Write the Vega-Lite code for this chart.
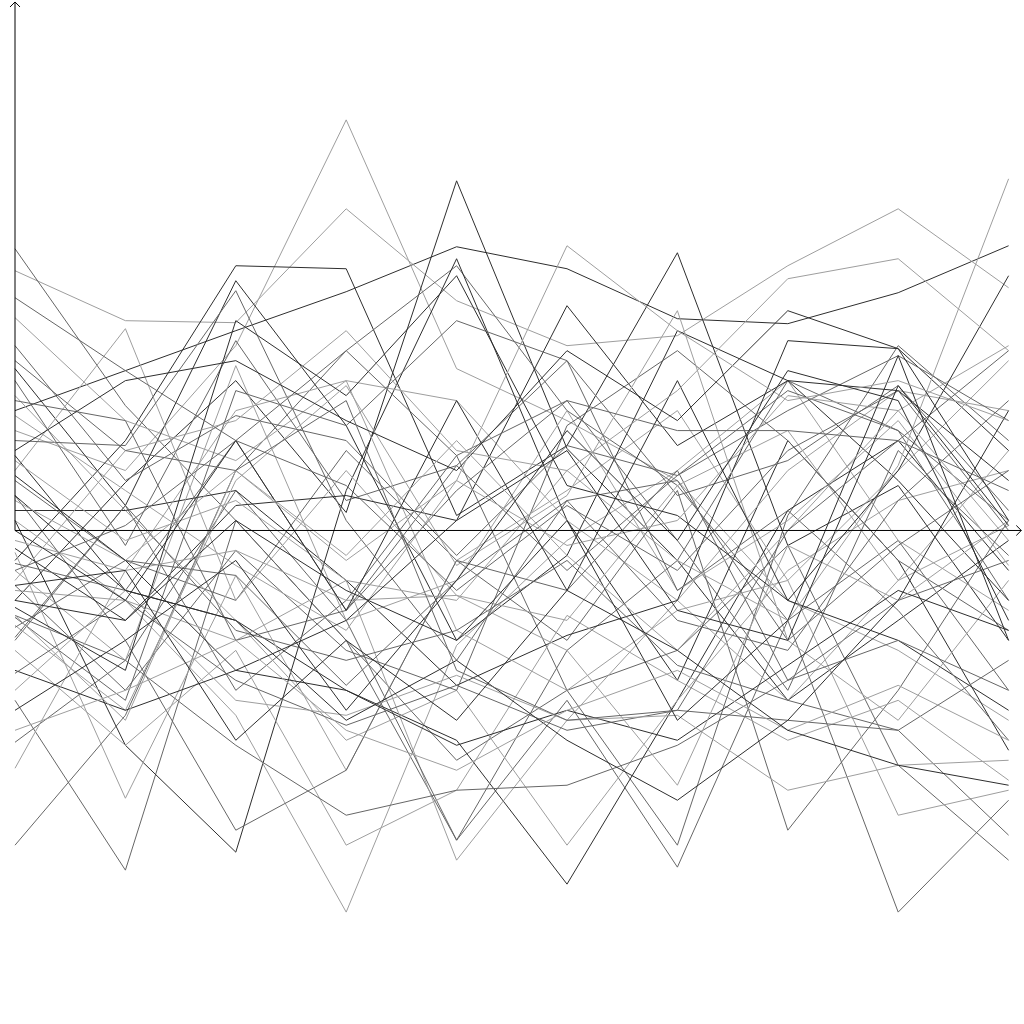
{"$schema":"https://vega.github.io/schema/vega-lite/v6.json","width":1024,"height":1024,"autosize":{"type":"fit","contains":"padding"},"padding":0,"background":"white","config":{"view":{"stroke":null}},
"datasets":{
"lines":[
{"id":1,"x":0,"y":1.2},{"id":1,"x":1,"y":1.6},{"id":1,"x":2,"y":2.0},{"id":1,"x":3,"y":2.39},{"id":1,"x":4,"y":2.84},{"id":1,"x":5,"y":2.62},{"id":1,"x":6,"y":2.12},{"id":1,"x":7,"y":2.07},{"id":1,"x":8,"y":2.38},{"id":1,"x":9,"y":2.85},
{"id":2,"x":0,"y":1.0},{"id":2,"x":1,"y":0.6},{"id":2,"x":2,"y":1.85},{"id":2,"x":3,"y":4.11},{"id":2,"x":4,"y":1.62},{"id":2,"x":5,"y":1.1},{"id":2,"x":6,"y":0.5},{"id":2,"x":7,"y":-0.7},{"id":2,"x":8,"y":-1.2},{"id":2,"x":9,"y":-1.9},
{"id":3,"x":0,"y":2.6},{"id":3,"x":1,"y":2.1},{"id":3,"x":2,"y":2.08},{"id":3,"x":3,"y":3.22},{"id":3,"x":4,"y":2.3},{"id":3,"x":5,"y":1.85},{"id":3,"x":6,"y":1.95},{"id":3,"x":7,"y":2.65},{"id":3,"x":8,"y":3.22},{"id":3,"x":9,"y":2.43},
{"id":4,"x":0,"y":-0.7},{"id":4,"x":1,"y":0.48},{"id":4,"x":2,"y":1.5},{"id":4,"x":3,"y":0.18},{"id":4,"x":4,"y":3.5},{"id":4,"x":5,"y":0.82},{"id":4,"x":6,"y":-0.3},{"id":4,"x":7,"y":-1.7},{"id":4,"x":8,"y":-0.9},{"id":4,"x":9,"y":-0.1},
{"id":5,"x":0,"y":-0.3},{"id":5,"x":1,"y":0.9},{"id":5,"x":2,"y":2.65},{"id":5,"x":3,"y":2.62},{"id":5,"x":4,"y":0.15},{"id":5,"x":5,"y":0.85},{"id":5,"x":6,"y":2.78},{"id":5,"x":7,"y":-0.15},{"id":5,"x":8,"y":0.45},{"id":5,"x":9,"y":-1.1},
{"id":6,"x":0,"y":2.82},{"id":6,"x":1,"y":1.25},{"id":6,"x":2,"y":0.1},{"id":6,"x":3,"y":-1.1},{"id":6,"x":4,"y":-2.3},{"id":6,"x":5,"y":-1.6},{"id":6,"x":6,"y":-1.2},{"id":6,"x":7,"y":-0.15},{"id":6,"x":8,"y":-2.35},{"id":6,"x":9,"y":-3.3},
{"id":7,"x":0,"y":-3.15},{"id":7,"x":1,"y":-1.85},{"id":7,"x":2,"y":0.6},{"id":7,"x":3,"y":1.8},{"id":7,"x":4,"y":2.65},{"id":7,"x":5,"y":1.2},{"id":7,"x":6,"y":0.45},{"id":7,"x":7,"y":-0.9},{"id":7,"x":8,"y":-3.82},{"id":7,"x":9,"y":-2.7},
{"id":8,"x":0,"y":-1.7},{"id":8,"x":1,"y":-3.4},{"id":8,"x":2,"y":0.1},{"id":8,"x":3,"y":-1.1},{"id":8,"x":4,"y":-3.1},{"id":8,"x":5,"y":-1.7},{"id":8,"x":6,"y":-3.37},{"id":8,"x":7,"y":-0.9},{"id":8,"x":8,"y":-0.1},{"id":8,"x":9,"y":-1.6},
{"id":9,"x":0,"y":0.1},{"id":9,"x":1,"y":-2.15},{"id":9,"x":2,"y":-3.22},{"id":9,"x":3,"y":0.4},{"id":9,"x":4,"y":2.72},{"id":9,"x":5,"y":0.1},{"id":9,"x":6,"y":-1.5},{"id":9,"x":7,"y":0.9},{"id":9,"x":8,"y":-0.3},{"id":9,"x":9,"y":-2.2},
{"id":10,"x":0,"y":-1.1},{"id":10,"x":1,"y":0.25},{"id":10,"x":2,"y":-1.6},{"id":10,"x":3,"y":-0.7},{"id":10,"x":4,"y":0.75},{"id":10,"x":5,"y":-1.6},{"id":10,"x":6,"y":-3.15},{"id":10,"x":7,"y":0.15},{"id":10,"x":8,"y":1.85},{"id":10,"x":9,"y":0.9},
{"id":11,"x":0,"y":-0.6},{"id":11,"x":1,"y":-0.7},{"id":11,"x":2,"y":-1.85},{"id":11,"x":3,"y":-3.82},{"id":11,"x":4,"y":-1.15},{"id":11,"x":5,"y":-0.1},{"id":11,"x":6,"y":0.6},{"id":11,"x":7,"y":1.5},{"id":11,"x":8,"y":-0.1},{"id":11,"x":9,"y":-0.8},
{"id":12,"x":0,"y":0.75},{"id":12,"x":1,"y":-0.6},{"id":12,"x":2,"y":-0.9},{"id":12,"x":3,"y":-1.6},{"id":12,"x":4,"y":-2.1},{"id":12,"x":5,"y":-3.54},{"id":12,"x":6,"y":-1.7},{"id":12,"x":7,"y":0.2},{"id":12,"x":8,"y":0.9},{"id":12,"x":9,"y":-0.4},
{"id":13,"x":0,"y":0.5},{"id":13,"x":1,"y":-0.3},{"id":13,"x":2,"y":-0.7},{"id":13,"x":3,"y":0.8},{"id":13,"x":4,"y":-0.3},{"id":13,"x":5,"y":-1.1},{"id":13,"x":6,"y":0.4},{"id":13,"x":7,"y":-3.0},{"id":13,"x":8,"y":-1.6},{"id":13,"x":9,"y":0.1},
{"id":14,"x":0,"y":0.1},{"id":14,"x":1,"y":-0.7},{"id":14,"x":2,"y":-1.1},{"id":14,"x":3,"y":-0.5},{"id":14,"x":4,"y":-3.3},{"id":14,"x":5,"y":-1.9},{"id":14,"x":6,"y":-0.7},{"id":14,"x":7,"y":0.6},{"id":14,"x":8,"y":1.4},{"id":14,"x":9,"y":1.2},
{"id":15,"x":0,"y":-0.85},{"id":15,"x":1,"y":-1.3},{"id":15,"x":2,"y":0.4},{"id":15,"x":3,"y":-0.9},{"id":15,"x":4,"y":-3.1},{"id":15,"x":5,"y":-1.2},{"id":15,"x":6,"y":-0.3},{"id":15,"x":7,"y":1.5},{"id":15,"x":8,"y":1.0},{"id":15,"x":9,"y":-0.7},
{"id":16,"x":0,"y":1.35},{"id":16,"x":1,"y":0.2},{"id":16,"x":2,"y":-0.9},{"id":16,"x":3,"y":-2.1},{"id":16,"x":4,"y":-1.6},{"id":16,"x":5,"y":-3.15},{"id":16,"x":6,"y":-1.7},{"id":16,"x":7,"y":-0.4},{"id":16,"x":8,"y":0.3},{"id":16,"x":9,"y":0.6},
{"id":17,"x":0,"y":-0.22},{"id":17,"x":1,"y":-2.68},{"id":17,"x":2,"y":-0.45},{"id":17,"x":3,"y":-2.4},{"id":17,"x":4,"y":-0.3},{"id":17,"x":5,"y":0.4},{"id":17,"x":6,"y":1.2},{"id":17,"x":7,"y":-0.5},{"id":17,"x":8,"y":-2.85},{"id":17,"x":9,"y":-2.6},
{"id":18,"x":0,"y":0.35},{"id":18,"x":1,"y":-1.1},{"id":18,"x":2,"y":-3.0},{"id":18,"x":3,"y":-2.4},{"id":18,"x":4,"y":-0.3},{"id":18,"x":5,"y":-0.6},{"id":18,"x":6,"y":0.6},{"id":18,"x":7,"y":-1.5},{"id":18,"x":8,"y":-0.7},{"id":18,"x":9,"y":-0.3},
{"id":19,"x":0,"y":2.13},{"id":19,"x":1,"y":1.1},{"id":19,"x":2,"y":0.7},{"id":19,"x":3,"y":1.5},{"id":19,"x":4,"y":1.3},{"id":19,"x":5,"y":0.1},{"id":19,"x":6,"y":-0.7},{"id":19,"x":7,"y":-1.7},{"id":19,"x":8,"y":-0.5},{"id":19,"x":9,"y":0.8},
{"id":20,"x":0,"y":1.85},{"id":20,"x":1,"y":0.5},{"id":20,"x":2,"y":1.15},{"id":20,"x":3,"y":0.9},{"id":20,"x":4,"y":-0.25},{"id":20,"x":5,"y":0.85},{"id":20,"x":6,"y":0.55},{"id":20,"x":7,"y":1.4},{"id":20,"x":8,"y":1.0},{"id":20,"x":9,"y":0.1},
{"id":21,"x":0,"y":1.62},{"id":21,"x":1,"y":0.25},{"id":21,"x":2,"y":2.5},{"id":21,"x":3,"y":1.05},{"id":21,"x":4,"y":-1.1},{"id":21,"x":5,"y":-0.25},{"id":21,"x":6,"y":2.0},{"id":21,"x":7,"y":1.5},{"id":21,"x":8,"y":0.5},{"id":21,"x":9,"y":-0.7},
{"id":22,"x":0,"y":1.5},{"id":22,"x":1,"y":-0.15},{"id":22,"x":2,"y":1.9},{"id":22,"x":3,"y":0.3},{"id":22,"x":4,"y":0.65},{"id":22,"x":5,"y":1.7},{"id":22,"x":6,"y":0.35},{"id":22,"x":7,"y":0.7},{"id":22,"x":8,"y":1.45},{"id":22,"x":9,"y":0.2},
{"id":23,"x":0,"y":0.6},{"id":23,"x":1,"y":2.02},{"id":23,"x":2,"y":-0.7},{"id":23,"x":3,"y":0.6},{"id":23,"x":4,"y":-0.65},{"id":23,"x":5,"y":-0.9},{"id":23,"x":6,"y":0.45},{"id":23,"x":7,"y":1.0},{"id":23,"x":8,"y":-0.5},{"id":23,"x":9,"y":0.05},
{"id":24,"x":0,"y":0.9},{"id":24,"x":1,"y":0.85},{"id":24,"x":2,"y":2.4},{"id":24,"x":3,"y":0.1},{"id":24,"x":4,"y":-1.3},{"id":24,"x":5,"y":0.3},{"id":24,"x":6,"y":0.5},{"id":24,"x":7,"y":-1.1},{"id":24,"x":8,"y":-0.15},{"id":24,"x":9,"y":0.6},
{"id":25,"x":0,"y":0.2},{"id":25,"x":1,"y":0.2},{"id":25,"x":2,"y":0.4},{"id":25,"x":3,"y":-0.5},{"id":25,"x":4,"y":-1.55},{"id":25,"x":5,"y":-1.05},{"id":25,"x":6,"y":-0.7},{"id":25,"x":7,"y":1.9},{"id":25,"x":8,"y":1.82},{"id":25,"x":9,"y":0.8},
{"id":26,"x":0,"y":-0.1},{"id":26,"x":1,"y":-0.4},{"id":26,"x":2,"y":1.2},{"id":26,"x":3,"y":1.5},{"id":26,"x":4,"y":-1.0},{"id":26,"x":5,"y":-1.6},{"id":26,"x":6,"y":-0.8},{"id":26,"x":7,"y":-0.5},{"id":26,"x":8,"y":0.6},{"id":26,"x":9,"y":1.7},
{"id":27,"x":0,"y":-0.18},{"id":27,"x":1,"y":-0.9},{"id":27,"x":2,"y":0.25},{"id":27,"x":3,"y":0.35},{"id":27,"x":4,"y":0.1},{"id":27,"x":5,"y":2.25},{"id":27,"x":6,"y":0.85},{"id":27,"x":7,"y":1.5},{"id":27,"x":8,"y":1.4},{"id":27,"x":9,"y":0.5},
{"id":28,"x":0,"y":-0.33},{"id":28,"x":1,"y":-0.6},{"id":28,"x":2,"y":0.9},{"id":28,"x":3,"y":-0.8},{"id":28,"x":4,"y":0.4},{"id":28,"x":5,"y":1.3},{"id":28,"x":6,"y":-0.1},{"id":28,"x":7,"y":-1.6},{"id":28,"x":8,"y":0.8},{"id":28,"x":9,"y":-0.25},
{"id":29,"x":0,"y":-0.4},{"id":29,"x":1,"y":-1.3},{"id":29,"x":2,"y":1.65},{"id":29,"x":3,"y":-0.9},{"id":29,"x":4,"y":-0.5},{"id":29,"x":5,"y":1.2},{"id":29,"x":6,"y":-0.6},{"id":29,"x":7,"y":0.1},{"id":29,"x":8,"y":1.1},{"id":29,"x":9,"y":-0.35},
{"id":30,"x":0,"y":-0.55},{"id":30,"x":1,"y":-1.6},{"id":30,"x":2,"y":-0.2},{"id":30,"x":3,"y":-1.2},{"id":30,"x":4,"y":-1.6},{"id":30,"x":5,"y":1.05},{"id":30,"x":6,"y":1.8},{"id":30,"x":7,"y":0.9},{"id":30,"x":8,"y":-0.3},{"id":30,"x":9,"y":-1.0},
{"id":31,"x":0,"y":-0.77},{"id":31,"x":1,"y":-1.4},{"id":31,"x":2,"y":2.1},{"id":31,"x":3,"y":1.35},{"id":31,"x":4,"y":2.55},{"id":31,"x":5,"y":0.45},{"id":31,"x":6,"y":0.15},{"id":31,"x":7,"y":-0.7},{"id":31,"x":8,"y":-1.1},{"id":31,"x":9,"y":-1.8},
{"id":32,"x":0,"y":-0.87},{"id":32,"x":1,"y":-1.7},{"id":32,"x":2,"y":1.4},{"id":32,"x":3,"y":1.05},{"id":32,"x":4,"y":2.1},{"id":32,"x":5,"y":1.7},{"id":32,"x":6,"y":-0.6},{"id":32,"x":7,"y":0.2},{"id":32,"x":8,"y":-0.8},{"id":32,"x":9,"y":-2.1},
{"id":33,"x":0,"y":-0.95},{"id":33,"x":1,"y":-1.8},{"id":33,"x":2,"y":0.5},{"id":33,"x":3,"y":1.45},{"id":33,"x":4,"y":-0.35},{"id":33,"x":5,"y":0.35},{"id":33,"x":6,"y":2.2},{"id":33,"x":7,"y":-1.1},{"id":33,"x":8,"y":-1.9},{"id":33,"x":9,"y":-0.5},
{"id":34,"x":0,"y":-0.97},{"id":34,"x":1,"y":-0.3},{"id":34,"x":2,"y":-0.45},{"id":34,"x":3,"y":-1.55},{"id":34,"x":4,"y":-0.5},{"id":34,"x":5,"y":0.3},{"id":34,"x":6,"y":-0.9},{"id":34,"x":7,"y":-1.2},{"id":34,"x":8,"y":0.3},{"id":34,"x":9,"y":1.3},
{"id":35,"x":0,"y":-1.07},{"id":35,"x":1,"y":0.25},{"id":35,"x":2,"y":-1.0},{"id":35,"x":3,"y":-1.3},{"id":35,"x":4,"y":-1.0},{"id":35,"x":5,"y":-0.3},{"id":35,"x":6,"y":-1.35},{"id":35,"x":7,"y":-1.7},{"id":35,"x":8,"y":-2.0},{"id":35,"x":9,"y":-1.3},
{"id":36,"x":0,"y":-1.2},{"id":36,"x":1,"y":-2.15},{"id":36,"x":2,"y":-1.2},{"id":36,"x":3,"y":-3.15},{"id":36,"x":4,"y":-2.6},{"id":36,"x":5,"y":-0.85},{"id":36,"x":6,"y":-1.5},{"id":36,"x":7,"y":-2.1},{"id":36,"x":8,"y":-1.7},{"id":36,"x":9,"y":-2.5},
{"id":37,"x":0,"y":-1.4},{"id":37,"x":1,"y":-1.8},{"id":37,"x":2,"y":-1.4},{"id":37,"x":3,"y":-1.6},{"id":37,"x":4,"y":-2.15},{"id":37,"x":5,"y":-1.8},{"id":37,"x":6,"y":-2.1},{"id":37,"x":7,"y":-1.35},{"id":37,"x":8,"y":-0.6},{"id":37,"x":9,"y":-1.0},
{"id":38,"x":0,"y":-1.43},{"id":38,"x":1,"y":-0.7},{"id":38,"x":2,"y":-1.5},{"id":38,"x":3,"y":-1.95},{"id":38,"x":4,"y":-1.55},{"id":38,"x":5,"y":-2.0},{"id":38,"x":6,"y":-1.8},{"id":38,"x":7,"y":-1.9},{"id":38,"x":8,"y":-2.0},{"id":38,"x":9,"y":-3.05},
{"id":39,"x":0,"y":-1.6},{"id":39,"x":1,"y":-0.6},{"id":39,"x":2,"y":-1.7},{"id":39,"x":3,"y":-1.85},{"id":39,"x":4,"y":-1.45},{"id":39,"x":5,"y":-1.9},{"id":39,"x":6,"y":-1.85},{"id":39,"x":7,"y":-2.6},{"id":39,"x":8,"y":-2.35},{"id":39,"x":9,"y":-2.3},
{"id":40,"x":0,"y":-2.12},{"id":40,"x":1,"y":-1.3},{"id":40,"x":2,"y":-2.15},{"id":40,"x":3,"y":-2.85},{"id":40,"x":4,"y":-2.6},{"id":40,"x":5,"y":-2.55},{"id":40,"x":6,"y":-2.15},{"id":40,"x":7,"y":-1.5},{"id":40,"x":8,"y":-1.1},{"id":40,"x":9,"y":-1.6},
{"id":41,"x":0,"y":-2.38},{"id":41,"x":1,"y":-0.4},{"id":41,"x":2,"y":-0.2},{"id":41,"x":3,"y":-0.7},{"id":41,"x":4,"y":-0.65},{"id":41,"x":5,"y":-1.2},{"id":41,"x":6,"y":-2.55},{"id":41,"x":7,"y":-0.15},{"id":41,"x":8,"y":-0.7},{"id":41,"x":9,"y":0.1},
{"id":42,"x":0,"y":1.3},{"id":42,"x":1,"y":1.1},{"id":42,"x":2,"y":-1.1},{"id":42,"x":3,"y":-0.8},{"id":42,"x":4,"y":0.65},{"id":42,"x":5,"y":-0.4},{"id":42,"x":6,"y":0.55},{"id":42,"x":7,"y":1.2},{"id":42,"x":8,"y":1.75},{"id":42,"x":9,"y":1.1},
{"id":43,"x":0,"y":1.15},{"id":43,"x":1,"y":0.4},{"id":43,"x":2,"y":-0.35},{"id":43,"x":3,"y":-1.0},{"id":43,"x":4,"y":0.5},{"id":43,"x":5,"y":-0.15},{"id":43,"x":6,"y":0.1},{"id":43,"x":7,"y":1.35},{"id":43,"x":8,"y":1.2},{"id":43,"x":9,"y":1.85},
{"id":44,"x":0,"y":2.33},{"id":44,"x":1,"y":1.6},{"id":44,"x":2,"y":0.9},{"id":44,"x":3,"y":1.8},{"id":44,"x":4,"y":0.75},{"id":44,"x":5,"y":1.3},{"id":44,"x":6,"y":1.0},{"id":44,"x":7,"y":1.0},{"id":44,"x":8,"y":0.9},{"id":44,"x":9,"y":1.8},
{"id":45,"x":0,"y":0.35},{"id":45,"x":1,"y":-0.6},{"id":45,"x":2,"y":-0.9},{"id":45,"x":3,"y":-1.9},{"id":45,"x":4,"y":-1.3},{"id":45,"x":5,"y":-2.1},{"id":45,"x":6,"y":-2.7},{"id":45,"x":7,"y":-1.9},{"id":45,"x":8,"y":-0.7},{"id":45,"x":9,"y":1.2},
{"id":46,"x":0,"y":0.7},{"id":46,"x":1,"y":-0.1},{"id":46,"x":2,"y":0.3},{"id":46,"x":3,"y":-0.5},{"id":46,"x":4,"y":-0.7},{"id":46,"x":5,"y":0.6},{"id":46,"x":6,"y":-0.3},{"id":46,"x":7,"y":-0.9},{"id":46,"x":8,"y":0.65},{"id":46,"x":9,"y":3.52},
{"id":47,"x":0,"y":0.0},{"id":47,"x":1,"y":-0.7},{"id":47,"x":2,"y":0.9},{"id":47,"x":3,"y":-0.8},{"id":47,"x":4,"y":1.3},{"id":47,"x":5,"y":-0.6},{"id":47,"x":6,"y":1.5},{"id":47,"x":7,"y":-0.7},{"id":47,"x":8,"y":0.6},{"id":47,"x":9,"y":2.55},
{"id":48,"x":0,"y":-0.5},{"id":48,"x":1,"y":0.8},{"id":48,"x":2,"y":1.1},{"id":48,"x":3,"y":2.0},{"id":48,"x":4,"y":0.8},{"id":48,"x":5,"y":0.6},{"id":48,"x":6,"y":1.4},{"id":48,"x":7,"y":2.52},{"id":48,"x":8,"y":2.72},{"id":48,"x":9,"y":1.8},
{"id":49,"x":0,"y":0.8},{"id":49,"x":1,"y":1.5},{"id":49,"x":2,"y":1.7},{"id":49,"x":3,"y":1.1},{"id":49,"x":4,"y":0.6},{"id":49,"x":5,"y":1.8},{"id":49,"x":6,"y":1.1},{"id":49,"x":7,"y":2.2},{"id":49,"x":8,"y":1.82},{"id":49,"x":9,"y":0.1},
{"id":50,"x":0,"y":-0.7},{"id":50,"x":1,"y":-0.9},{"id":50,"x":2,"y":0.1},{"id":50,"x":3,"y":-0.6},{"id":50,"x":4,"y":-1.1},{"id":50,"x":5,"y":0.1},{"id":50,"x":6,"y":-1.9},{"id":50,"x":7,"y":-0.9},{"id":50,"x":8,"y":1.75},{"id":50,"x":9,"y":-1.1},
{"id":51,"x":0,"y":0.3},{"id":51,"x":1,"y":-0.3},{"id":51,"x":2,"y":0.6},{"id":51,"x":3,"y":-0.3},{"id":51,"x":4,"y":0.5},{"id":51,"x":5,"y":2.85},{"id":51,"x":6,"y":2.0},{"id":51,"x":7,"y":1.3},{"id":51,"x":8,"y":1.5},{"id":51,"x":9,"y":1.1},
{"id":52,"x":0,"y":-0.4},{"id":52,"x":1,"y":0.05},{"id":52,"x":2,"y":0.9},{"id":52,"x":3,"y":0.45},{"id":52,"x":4,"y":-0.6},{"id":52,"x":5,"y":0.25},{"id":52,"x":6,"y":-0.4},{"id":52,"x":7,"y":0.8},{"id":52,"x":8,"y":1.4},{"id":52,"x":9,"y":0.0},
{"id":53,"x":0,"y":0.55},{"id":53,"x":1,"y":-0.3},{"id":53,"x":2,"y":-1.4},{"id":53,"x":3,"y":-0.9},{"id":53,"x":4,"y":0.1},{"id":53,"x":5,"y":0.8},{"id":53,"x":6,"y":-0.8},{"id":53,"x":7,"y":-1.1},{"id":53,"x":8,"y":1.45},{"id":53,"x":9,"y":0.05},
{"id":54,"x":0,"y":-0.85},{"id":54,"x":1,"y":-1.9},{"id":54,"x":2,"y":0.6},{"id":54,"x":3,"y":-0.25},{"id":54,"x":4,"y":0.9},{"id":54,"x":5,"y":-0.25},{"id":54,"x":6,"y":-1.2},{"id":54,"x":7,"y":0.0},{"id":54,"x":8,"y":1.2},{"id":54,"x":9,"y":-0.1},
{"id":55,"x":0,"y":-1.8},{"id":55,"x":1,"y":-1.1},{"id":55,"x":2,"y":-0.3},{"id":55,"x":3,"y":-1.8},{"id":55,"x":4,"y":-0.5},{"id":55,"x":5,"y":1.0},{"id":55,"x":6,"y":-0.1},{"id":55,"x":7,"y":1.6},{"id":55,"x":8,"y":1.3},{"id":55,"x":9,"y":-0.9},
{"id":56,"x":0,"y":1.7},{"id":56,"x":1,"y":0.8},{"id":56,"x":2,"y":0.6},{"id":56,"x":3,"y":1.3},{"id":56,"x":4,"y":-1.4},{"id":56,"x":5,"y":-1.9},{"id":56,"x":6,"y":-1.8},{"id":56,"x":7,"y":0.0},{"id":56,"x":8,"y":0.9},{"id":56,"x":9,"y":0.4},
{"id":57,"x":0,"y":-2.0},{"id":57,"x":1,"y":-1.6},{"id":57,"x":2,"y":-1.1},{"id":57,"x":3,"y":-2.0},{"id":57,"x":4,"y":-2.4},{"id":57,"x":5,"y":-1.8},{"id":57,"x":6,"y":-1.4},{"id":57,"x":7,"y":-2.0},{"id":57,"x":8,"y":-1.55},{"id":57,"x":9,"y":-2.1},
{"id":58,"x":0,"y":-0.55},{"id":58,"x":1,"y":-0.4},{"id":58,"x":2,"y":-2.1},{"id":58,"x":3,"y":-1.1},{"id":58,"x":4,"y":-1.9},{"id":58,"x":5,"y":-0.6},{"id":58,"x":6,"y":-1.2},{"id":58,"x":7,"y":-2.0},{"id":58,"x":8,"y":-2.35},{"id":58,"x":9,"y":-2.55}
],
"axes":[{"x":0,"y":0,"x2":9.115,"y2":0},{"x":0,"y":0,"x2":0,"y2":5.29}],
"heads":[{"x":9.115,"y":0,"dir":"right"},{"x":0,"y":5.29,"dir":"up"}]
},
"layer":[
{"data":{"name":"lines"},"mark":{"type":"line","strokeWidth":1},
"encoding":{
"x":{"field":"x","type":"quantitative","scale":{"domain":[-0.1359,9.1395],"nice":false,"zero":false},"axis":null},
"y":{"field":"y","type":"quantitative","scale":{"domain":[-4.94,5.3],"nice":false,"zero":false},"axis":null},
"color":{"field":"id","type":"nominal","scale":{"domain":[1,2,3,4,5,6,7,8,9,10,11,12,13,14,15,16,17,18,19,20,21,22,23,24,25,26,27,28,29,30,31,32,33,34,35,36,37,38,39,40,41,42,43,44,45,46,47,48,49,50,51,52,53,54,55,56,57,58],
"range":["#2e2e2e","#9e9e9e","#9e9e9e","#2e2e2e","#2e2e2e","#666666","#666666","#666666","#2e2e2e","#666666","#9e9e9e","#2e2e2e","#666666","#9e9e9e","#666666","#9e9e9e","#9e9e9e","#666666","#9e9e9e","#666666","#2e2e2e","#666666","#9e9e9e","#666666","#2e2e2e","#9e9e9e","#2e2e2e","#666666","#9e9e9e","#666666","#2e2e2e","#666666","#9e9e9e","#666666","#666666","#9e9e9e","#2e2e2e","#666666","#9e9e9e","#666666","#9e9e9e","#666666","#9e9e9e","#666666","#2e2e2e","#9e9e9e","#2e2e2e","#9e9e9e","#2e2e2e","#2e2e2e","#9e9e9e","#666666","#2e2e2e","#9e9e9e","#2e2e2e","#666666","#9e9e9e","#2e2e2e"]},"legend":null}
}},
{"data":{"name":"axes"},"mark":{"type":"rule","color":"black","strokeWidth":1},
"encoding":{
"x":{"field":"x","type":"quantitative","scale":{"domain":[-0.1359,9.1395],"nice":false,"zero":false},"axis":null},
"y":{"field":"y","type":"quantitative","scale":{"domain":[-4.94,5.3],"nice":false,"zero":false},"axis":null},
"x2":{"field":"x2"},"y2":{"field":"y2"}}},
{"data":{"name":"heads"},"mark":{"type":"point","filled":false,"stroke":"black","strokeWidth":1,"size":100,"opacity":1},
"encoding":{
"x":{"field":"x","type":"quantitative","scale":{"domain":[-0.1359,9.1395],"nice":false,"zero":false},"axis":null},
"y":{"field":"y","type":"quantitative","scale":{"domain":[-4.94,5.3],"nice":false,"zero":false},"axis":null},
"shape":{"field":"dir","type":"nominal","scale":{"domain":["right","up"],"range":["M-1,-1L0,0L-1,1","M-1,1L0,0L1,1"]},"legend":null}}}
]}
